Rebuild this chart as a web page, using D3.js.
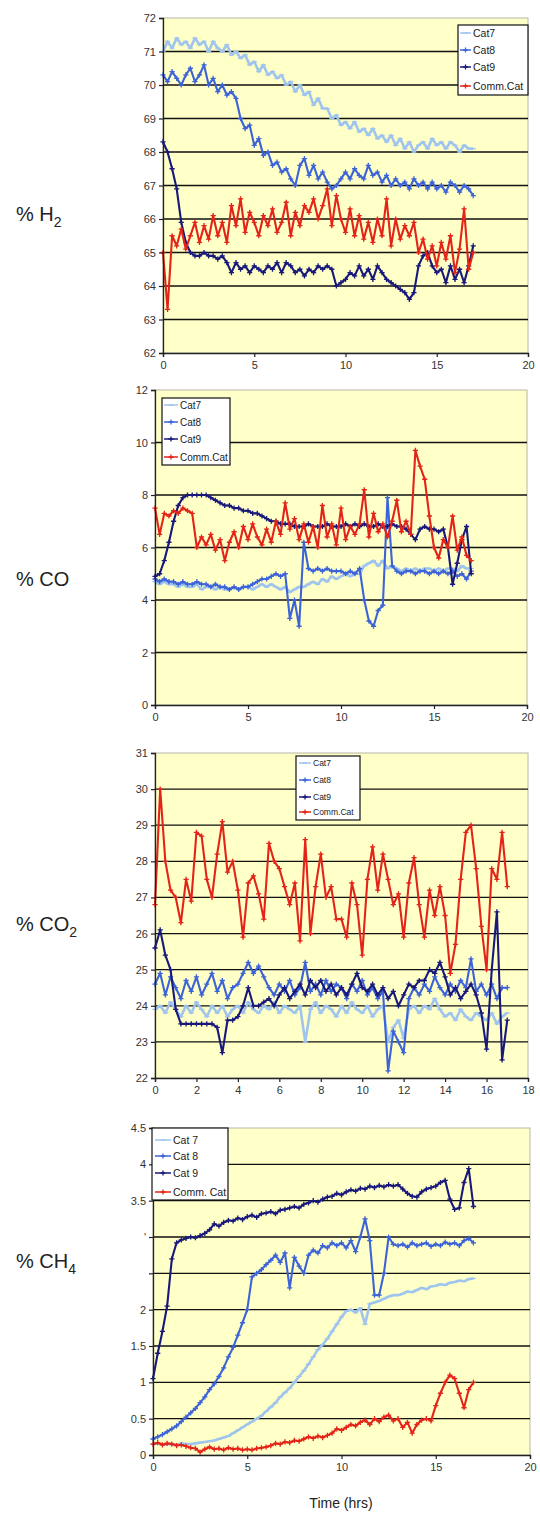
<!DOCTYPE html>
<html>
<head>
<meta charset="utf-8">
<script src="https://cdn.jsdelivr.net/npm/d3@7"></script>
<style>
  html, body { margin: 0; padding: 0; background: #ffffff; }
  svg { display: block; }
  text { font-family: "Liberation Sans", Arial, sans-serif; }
</style>
</head>
<body>
<svg id="chart" width="540" height="1513"></svg>
<script>
// ---------------- DATA ----------------
const times = [
  0, 0.25, 0.5, 0.75, 1, 1.25, 1.5, 1.75, 2, 2.25, 2.5, 2.75, 3, 3.25, 3.5, 3.75,
  4, 4.25, 4.5, 4.75, 5, 5.25, 5.5, 5.75, 6, 6.25, 6.5, 6.75, 7, 7.25, 7.5, 7.75,
  8, 8.25, 8.5, 8.75, 9, 9.25, 9.5, 9.75, 10, 10.25, 10.5, 10.75, 11, 11.25, 11.5, 11.75,
  12, 12.25, 12.5, 12.75, 13, 13.25, 13.5, 13.75, 14, 14.25, 14.5, 14.75, 15, 15.25, 15.5, 15.75,
  16, 16.25, 16.5, 16.75, 17
];

const seriesNames = ["Cat7", "Cat8", "Cat9", "Comm.Cat"];
const seriesNamesCH4 = ["Cat 7", "Cat 8", "Cat 9", "Comm. Cat"];

// % H2
const h2Cat7 = [
  71.0, 71.3, 71.1, 71.4, 71.2, 71.3, 71.1, 71.4, 71.2, 71.3, 71.0, 71.3, 71.1, 71.0, 71.2, 70.9,
  71.0, 70.8, 70.9, 70.6, 70.7, 70.4, 70.6, 70.3, 70.4, 70.2, 70.3, 70.0, 70.1, 69.8, 70.0, 69.7,
  69.8, 69.4, 69.6, 69.3, 69.3, 69.0, 69.1, 68.8, 68.9, 68.7, 68.9, 68.6, 68.7, 68.5, 68.7, 68.4,
  68.5, 68.3, 68.5, 68.2, 68.4, 68.1, 68.3, 68.0, 68.2, 68.3, 68.1, 68.4, 68.2, 68.3, 68.1, 68.3,
  68.2, 68.0, 68.2, 68.1, 68.1
];
const h2Cat8 = [
  70.3, 70.1, 70.4, 70.2, 70.0, 70.3, 70.5, 70.1, 70.3, 70.6, 70.0, 70.2, 69.8, 70.0, 69.7, 69.8,
  69.6, 69.0, 68.7, 68.8, 68.2, 68.4, 67.9, 68.0, 67.6, 67.7, 67.4, 67.5, 67.2, 67.0, 67.6, 67.8,
  67.3, 67.6, 67.2, 67.4, 67.1, 66.9, 67.0, 67.2, 67.4, 67.2, 67.5, 67.3, 67.2, 67.6, 67.3, 67.4,
  67.1, 67.3, 67.0, 67.2, 67.0, 67.1, 66.9, 67.2, 67.0, 67.1, 66.9, 67.1, 66.9, 67.0, 66.8, 67.1,
  67.0, 66.8, 67.0, 66.9, 66.7
];
const h2Cat9 = [
  68.3, 68.0, 67.5, 66.9, 65.9, 65.3, 65.0, 64.9, 64.9, 65.0, 64.9, 64.9, 64.8, 64.9, 64.7, 64.4,
  64.7, 64.5, 64.6, 64.4, 64.6, 64.5, 64.4, 64.6, 64.5, 64.7, 64.4, 64.7, 64.6, 64.4, 64.5, 64.3,
  64.5, 64.4, 64.6, 64.5, 64.6, 64.5, 64.0, 64.1, 64.2, 64.4, 64.3, 64.6, 64.3, 64.5, 64.2, 64.6,
  64.4, 64.2, 64.1, 64.0, 63.9, 63.8, 63.6, 63.8, 64.6, 64.9, 65.0, 64.6, 64.4, 64.5, 64.1, 64.6,
  64.2, 64.5, 64.1, 64.6, 65.2
];
const h2Comm = [
  65.0, 63.3, 65.5, 65.2, 65.7, 65.1, 65.5, 65.9, 65.3, 65.8, 65.4, 66.1, 65.5, 65.9, 65.3, 66.4,
  65.8, 66.6, 65.6, 66.2, 65.9, 65.5, 66.1, 65.8, 66.3, 65.6, 65.9, 66.5, 65.5, 66.2, 65.8, 66.4,
  66.2, 66.6, 66.0, 66.4, 66.9, 65.8, 66.7, 66.0, 65.6, 66.3, 65.5, 66.1, 65.4, 65.9, 65.3, 66.0,
  65.5, 66.6, 65.2, 66.0, 65.4, 65.8, 65.5, 65.9, 65.0, 65.4, 64.8, 65.2, 64.6, 65.3, 64.8, 65.5,
  64.4, 65.1, 66.3, 64.5, 65.0
];

// % CO
const coCat7 = [
  4.7, 4.6, 4.7, 4.6, 4.6, 4.5, 4.6, 4.5, 4.5, 4.6, 4.4, 4.5, 4.5, 4.4, 4.5, 4.4,
  4.4, 4.5, 4.4, 4.5, 4.5, 4.4, 4.5, 4.6, 4.5, 4.6, 4.5, 4.4, 4.5, 4.3, 4.4, 4.5,
  4.5, 4.6, 4.7, 4.6, 4.8, 4.7, 4.9, 4.8, 4.9, 5.0, 4.9, 5.0, 5.0, 5.3, 5.4, 5.5,
  5.3, 5.5, 5.2, 5.3, 5.2, 5.1, 5.2, 5.1, 5.2, 5.1, 5.2, 5.2, 5.1, 5.2, 5.1, 5.2,
  5.2, 5.1, 5.3, 5.2, 5.2
];
const coCat8 = [
  4.8, 4.7, 4.8, 4.7, 4.7, 4.6, 4.7, 4.6, 4.6, 4.7, 4.6, 4.6, 4.5, 4.6, 4.5, 4.5,
  4.4, 4.5, 4.4, 4.5, 4.5, 4.6, 4.7, 4.8, 4.8, 4.9, 5.0, 4.9, 5.0, 3.3, 4.0, 3.0,
  6.2, 5.2, 5.1, 5.2, 5.1, 5.2, 5.1, 5.1, 5.1, 5.0, 5.1, 5.0, 5.2, 4.0, 3.2, 3.0,
  3.6, 3.8, 7.9, 5.3, 5.1, 5.0, 5.1, 5.1, 5.0, 5.1, 5.1, 5.0, 5.1, 5.0, 5.1, 5.0,
  5.1, 4.9, 5.0, 4.8, 5.1
];
const coCat9 = [
  4.9, 5.0, 5.5, 6.2, 7.0, 7.6, 7.9, 8.0, 8.0, 8.0, 8.0, 8.0, 7.9, 7.8, 7.7, 7.6,
  7.6, 7.5, 7.5, 7.4, 7.4, 7.3, 7.3, 7.2, 7.1, 7.0, 7.0, 6.9, 6.9, 6.9, 6.8, 6.8,
  6.8, 6.9, 6.8, 6.8, 6.8, 6.9, 6.8, 6.8, 6.8, 6.9, 6.8, 6.9, 6.8, 6.9, 6.8, 6.8,
  6.9, 6.8, 6.8, 6.9, 6.8, 6.8, 6.7, 6.5, 6.3, 6.7, 6.8, 6.7, 6.7, 6.6, 6.7, 6.0,
  4.6, 5.4, 6.3, 6.8, 5.0
];
const coComm = [
  7.5, 6.5, 7.3, 7.2, 7.4, 7.3, 7.5, 7.4, 7.3, 6.0, 6.4, 6.1, 6.5, 5.9, 6.3, 5.5,
  6.2, 6.6, 6.0, 6.8, 6.3, 6.9, 6.4, 6.1, 6.7, 6.2, 7.0, 6.5, 7.7, 6.7, 7.1, 6.3,
  6.9, 6.2, 6.8, 6.0, 7.6, 6.4, 6.9, 6.1, 7.5, 6.3, 6.8, 6.5, 6.9, 8.2, 6.4, 7.3,
  6.6, 6.9, 6.4, 7.0, 7.8, 6.6, 7.0, 6.5, 9.7, 9.1, 8.6, 7.2, 6.0, 5.6, 6.3, 6.0,
  7.2, 5.9, 6.4, 5.7, 5.5
];

// % CO2
const co2Cat7 = [
  23.9, 24.0, 23.8, 24.1, 23.9, 23.7, 24.0, 23.8, 24.1, 23.9, 23.7, 24.0, 23.8, 24.0, 23.7, 23.9,
  24.0, 23.8, 24.1, 23.9, 23.8, 24.0, 23.9, 24.1, 23.8, 24.0, 23.9, 23.8, 24.0, 23.0, 23.9, 24.1,
  23.8, 24.0, 23.9, 23.7, 24.0, 23.8, 24.1, 23.9, 23.8, 24.0, 23.7, 23.9, 24.0, 23.0, 23.4, 23.6,
  23.1, 23.9, 24.0, 23.8, 24.0, 23.9, 24.2, 23.9, 23.7, 23.8, 23.6, 23.9, 23.7, 23.6, 23.8, 23.7,
  23.6, 23.8, 23.5, 23.7, 23.8
];
const co2Cat8 = [
  24.6, 24.9, 24.3, 24.8, 24.5, 24.2, 24.7, 24.4, 24.8, 24.3, 24.6, 24.9, 24.4, 24.7, 24.2, 24.5,
  24.6, 24.9, 25.2, 24.9, 25.1, 24.8, 24.5, 24.3, 24.6, 24.4, 24.7, 24.3, 24.5, 25.2, 24.4, 24.6,
  24.3, 24.7, 24.4, 24.6, 24.5, 24.2, 24.6, 24.4, 24.7, 24.3, 24.5, 24.2, 24.4, 22.2, 23.3, 23.0,
  22.7, 24.2, 24.5, 24.3, 24.6, 24.4, 24.8, 24.5, 24.3, 24.6, 24.4, 24.7, 24.5, 25.3, 24.4, 24.6,
  24.3, 24.6, 24.2, 24.5, 24.5
];
const co2Cat9 = [
  25.6, 26.1, 25.4, 25.0, 23.9, 23.5, 23.5, 23.5, 23.5, 23.5, 23.5, 23.5, 23.4, 22.7, 23.6, 23.6,
  23.7, 24.0, 24.5, 24.0, 24.0, 24.1, 24.2, 24.0, 24.3, 24.5, 24.2, 24.4, 24.6, 24.3, 24.7, 24.5,
  24.7, 24.4, 24.6, 24.3, 24.5, 24.3, 24.6, 24.9, 24.5, 24.4, 24.6, 24.3, 24.5, 24.2, 24.4, 24.0,
  24.3, 24.6, 24.5, 24.7, 24.7, 25.0, 24.9, 25.2, 24.8, 24.3, 24.5, 24.2, 24.4, 24.6, 24.3, 23.8,
  22.8, 25.0, 26.6, 22.5, 23.6
];
const co2Comm = [
  26.8, 30.0, 28.0, 27.2, 27.0, 26.3, 27.5, 26.9, 28.8, 28.7, 27.5, 27.0, 28.2, 29.1, 27.7, 28.0,
  27.2, 25.9, 27.4, 27.6, 27.1, 26.4, 28.5, 28.0, 27.8, 27.3, 26.8, 27.4, 25.8, 28.6, 26.0, 27.3,
  28.2, 27.0, 27.3, 26.4, 26.4, 25.9, 27.4, 26.8, 25.4, 27.5, 28.4, 27.2, 28.2, 27.5, 26.8, 27.1,
  25.9, 27.4, 28.1, 26.8, 25.9, 27.2, 26.5, 27.3, 26.5, 24.9, 25.7, 27.5, 28.8, 29.0, 27.8, 26.2,
  25.0, 27.8, 27.5, 28.8, 27.3
];

// % CH4
const ch4Cat7 = [
  0.15, 0.16, 0.14, 0.15, 0.15, 0.14, 0.16, 0.15, 0.15, 0.16, 0.17, 0.18, 0.19, 0.20, 0.22, 0.24,
  0.26, 0.30, 0.34, 0.38, 0.42, 0.46, 0.50, 0.54, 0.60, 0.66, 0.72, 0.80, 0.86, 0.92, 1.00, 1.08,
  1.16, 1.25, 1.35, 1.45, 1.52, 1.60, 1.70, 1.80, 1.90, 1.98, 2.00, 1.96, 2.02, 1.80, 2.08, 2.10,
  2.12, 2.15, 2.18, 2.20, 2.20, 2.22, 2.25, 2.24, 2.27, 2.30, 2.28, 2.32, 2.33, 2.35, 2.34, 2.37,
  2.38, 2.40, 2.39, 2.42, 2.43
];
const ch4Cat8 = [
  0.22, 0.25, 0.28, 0.32, 0.36, 0.40, 0.46, 0.52, 0.58, 0.64, 0.72, 0.80, 0.90, 0.98, 1.08, 1.20,
  1.35, 1.48, 1.65, 1.82, 2.00, 2.45, 2.50, 2.55, 2.62, 2.68, 2.75, 2.65, 2.78, 2.30, 2.72, 2.60,
  2.50, 2.75, 2.82, 2.78, 2.88, 2.85, 2.92, 2.88, 2.92, 2.85, 2.95, 2.80, 3.00, 3.25, 2.95, 2.20,
  2.20, 2.50, 3.00, 2.90, 2.88, 2.90, 2.86, 2.92, 2.88, 2.90, 2.92, 2.87, 2.90, 2.88, 2.93, 2.90,
  2.92, 2.88, 2.95, 2.98, 2.92
];
const ch4Cat9 = [
  1.05, 1.40, 1.70, 2.05, 2.70, 2.92, 2.96, 2.98, 3.00, 2.99, 3.02, 3.05, 3.10, 3.18, 3.15, 3.20,
  3.23, 3.22, 3.26, 3.24, 3.28, 3.30, 3.27, 3.32, 3.33, 3.35, 3.32, 3.37, 3.38, 3.40, 3.42, 3.40,
  3.45, 3.47, 3.50, 3.48, 3.52, 3.55, 3.56, 3.60, 3.58, 3.62, 3.65, 3.63, 3.67, 3.66, 3.70, 3.68,
  3.71, 3.69, 3.72, 3.70, 3.72, 3.66, 3.60, 3.56, 3.55, 3.62, 3.66, 3.68, 3.70, 3.75, 3.78, 3.52,
  3.38, 3.40, 3.75, 3.94, 3.42
];
const ch4Comm = [
  0.15, 0.17, 0.14, 0.16, 0.15, 0.13, 0.14, 0.12, 0.10, 0.09, 0.04, 0.08, 0.11, 0.08, 0.09, 0.07,
  0.10, 0.08, 0.09, 0.07, 0.08, 0.07, 0.09, 0.10, 0.11, 0.13, 0.16, 0.15, 0.18, 0.17, 0.20, 0.19,
  0.22, 0.25, 0.23, 0.26, 0.24, 0.27, 0.30, 0.36, 0.34, 0.38, 0.42, 0.40, 0.45, 0.48, 0.42, 0.50,
  0.46, 0.52, 0.55, 0.47, 0.50, 0.38, 0.45, 0.30, 0.42, 0.48, 0.50, 0.47, 0.68, 0.85, 1.00, 1.10,
  1.05, 0.85, 0.65, 0.90, 1.00
];

const h2YTicks = [62, 63, 64, 65, 66, 67, 68, 69, 70, 71, 72];
const h2YLabels = ["62", "63", "64", "65", "66", "67", "68", "69", "70", "71", "72"];
const coYTicks = [0, 2, 4, 6, 8, 10, 12];
const coYLabels = ["0", "2", "4", "6", "8", "10", "12"];
const co2YTicks = [22, 23, 24, 25, 26, 27, 28, 29, 30, 31];
const co2YLabels = ["22", "23", "24", "25", "26", "27", "28", "29", "30", "31"];
const ch4YTicks = [0, 0.5, 1, 1.5, 2, 2.5, 3, 3.5, 4, 4.5];
const ch4YLabels = ["0", "0.5", "1", "1.5", "2", "", "'", "3.5", "4", "4.5"];
const xTicks20 = [0, 5, 10, 15, 20];
const xLabels20 = ["0", "5", "10", "15", "20"];
const xTicks18 = [0, 2, 4, 6, 8, 10, 12, 14, 16, 18];
const xLabels18 = ["0", "2", "4", "6", "8", "10", "12", "14", "16", "18"];
const xAxisTitle = "Time (hrs)";

// ---------------- STYLE / LAYOUT ----------------
const colors = ["#9fc5ee", "#3d63d8", "#18197a", "#e42418"];
const markers = ["dash", "plus", "plus", "plus"];

const panels = [
  { main: "% H", sub: "2", labelY: 221,
    series: [h2Cat7, h2Cat8, h2Cat9, h2Comm], names: seriesNames,
    left: 163, right: 528, top: 18, bottom: 353,
    yDomain: [62, 72], yTicks: h2YTicks, yLabels: h2YLabels,
    xDomain: [0, 20], xTicks: xTicks20, xLabels: xLabels20,
    legend: { x: 458, y: 25, w: 70, h: 70, rows: [33, 50, 67, 86], fs: 10.5, sx: 460, tx: 473 } },
  { main: "% CO", sub: "", labelY: 586,
    series: [coCat7, coCat8, coCat9, coComm], names: seriesNames,
    left: 155, right: 527, top: 390, bottom: 705,
    yDomain: [0, 12], yTicks: coYTicks, yLabels: coYLabels,
    xDomain: [0, 20], xTicks: xTicks20, xLabels: xLabels20,
    legend: { x: 162, y: 398, w: 68, h: 67, rows: [405, 422, 439, 457], fs: 10, sx: 164, tx: 180 } },
  { main: "% CO", sub: "2", labelY: 931,
    series: [co2Cat7, co2Cat8, co2Cat9, co2Comm], names: seriesNames,
    left: 155, right: 528, top: 753, bottom: 1078,
    yDomain: [22, 31], yTicks: co2YTicks, yLabels: co2YLabels,
    xDomain: [0, 18], xTicks: xTicks18, xLabels: xLabels18,
    legend: { x: 296, y: 756, w: 64, h: 64, rows: [763, 780, 797, 812], fs: 8.5, sx: 299, tx: 313 } },
  { main: "% CH", sub: "4", labelY: 1268,
    series: [ch4Cat7, ch4Cat8, ch4Cat9, ch4Comm], names: seriesNamesCH4,
    left: 153, right: 530, top: 1128, bottom: 1455,
    yDomain: [0, 4.5], yTicks: ch4YTicks, yLabels: ch4YLabels,
    xDomain: [0, 20], xTicks: xTicks20, xLabels: xLabels20,
    legend: { x: 152, y: 1128, w: 76, h: 72, rows: [1140, 1156, 1173, 1192], fs: 10.5, sx: 155, tx: 173 } }
];

const svg = d3.select("#chart");

function markerPath(kind, s) {
  if (kind === "dash") return `M${-s},0H${s}`;
  return `M${-s},0H${s}M0,${-s}V${s}`;
}

panels.forEach((p, pi) => {
  const x = d3.scaleLinear().domain(p.xDomain).range([p.left, p.right]);
  const y = d3.scaleLinear().domain(p.yDomain).range([p.bottom, p.top]);
  const g = svg.append("g");

  // plot area
  g.append("rect")
    .attr("x", p.left).attr("y", p.top)
    .attr("width", p.right - p.left).attr("height", p.bottom - p.top)
    .attr("fill", "#ffffc8").attr("stroke", "#b8b8a8").attr("stroke-width", 1);

  // gridlines
  g.append("g").selectAll("line")
    .data(p.yTicks.slice(1, -1))
    .join("line")
    .attr("x1", p.left).attr("x2", p.right)
    .attr("y1", d => y(d)).attr("y2", d => y(d))
    .attr("stroke", "#111").attr("stroke-width", 1.3);

  // series
  const line = d3.line().x((d, i) => x(times[i])).y(d => y(d));
  p.series.forEach((vals, si) => {
    const sg = g.append("g");
    sg.append("path")
      .datum(vals)
      .attr("d", line)
      .attr("fill", "none")
      .attr("stroke", colors[si])
      .attr("stroke-width", si === 0 ? 2.6 : 2.1)
      .attr("stroke-linejoin", "round");
    sg.selectAll("path.m")
      .data(vals)
      .join("path")
      .attr("class", "m")
      .attr("transform", (d, i) => `translate(${x(times[i])},${y(d)})`)
      .attr("d", markerPath(markers[si], 2.6))
      .attr("stroke", colors[si])
      .attr("stroke-width", 1.3);
  });

  // axes
  const yAxis = d3.axisLeft(y).tickValues(p.yTicks)
    .tickFormat((d, i) => p.yLabels[i]).tickSize(4).tickPadding(3);
  const ya = g.append("g").attr("transform", `translate(${p.left},0)`).call(yAxis);
  const xAxis = d3.axisBottom(x).tickValues(p.xTicks)
    .tickFormat((d, i) => p.xLabels[i]).tickSize(4).tickPadding(4);
  const xa = g.append("g").attr("transform", `translate(0,${p.bottom})`).call(xAxis);
  [ya, xa].forEach(a => {
    a.select(".domain").attr("stroke", "#222").attr("stroke-width", 1.3);
    a.selectAll(".tick line").attr("stroke", "#222").attr("stroke-width", 1.2);
    a.selectAll(".tick text").attr("fill", "#333").attr("font-size", 11)
      .attr("font-family", "'Liberation Sans', Arial, sans-serif");
  });

  // legend
  const L = p.legend;
  const lg = g.append("g");
  lg.append("rect").attr("x", L.x).attr("y", L.y).attr("width", L.w).attr("height", L.h)
    .attr("fill", "#ffffff").attr("stroke", "#111").attr("stroke-width", 1.2);
  p.names.forEach((nm, si) => {
    const ry = L.rows[si];
    lg.append("line").attr("x1", L.sx).attr("x2", L.tx - 2).attr("y1", ry).attr("y2", ry)
      .attr("stroke", colors[si]).attr("stroke-width", 1.5);
    lg.append("path").attr("transform", `translate(${(L.sx + L.tx - 2) / 2},${ry})`)
      .attr("d", markerPath(markers[si], 2.5)).attr("stroke", colors[si]).attr("stroke-width", 1.3);
    lg.append("text").attr("x", L.tx).attr("y", ry + L.fs * 0.36)
      .attr("font-size", L.fs).attr("fill", "#222").text(nm);
  });

  // side label
  const t = svg.append("text").attr("x", 16).attr("y", p.labelY)
    .attr("font-size", 20).attr("fill", "#222");
  t.append("tspan").text(p.main);
  if (p.sub) t.append("tspan").attr("font-size", 14).attr("dy", 6).text(p.sub);
});

// x axis title
svg.append("text").attr("x", 341).attr("y", 1508).attr("text-anchor", "middle")
  .attr("font-size", 14).attr("fill", "#222").text(xAxisTitle);
</script>
</body>
</html>
